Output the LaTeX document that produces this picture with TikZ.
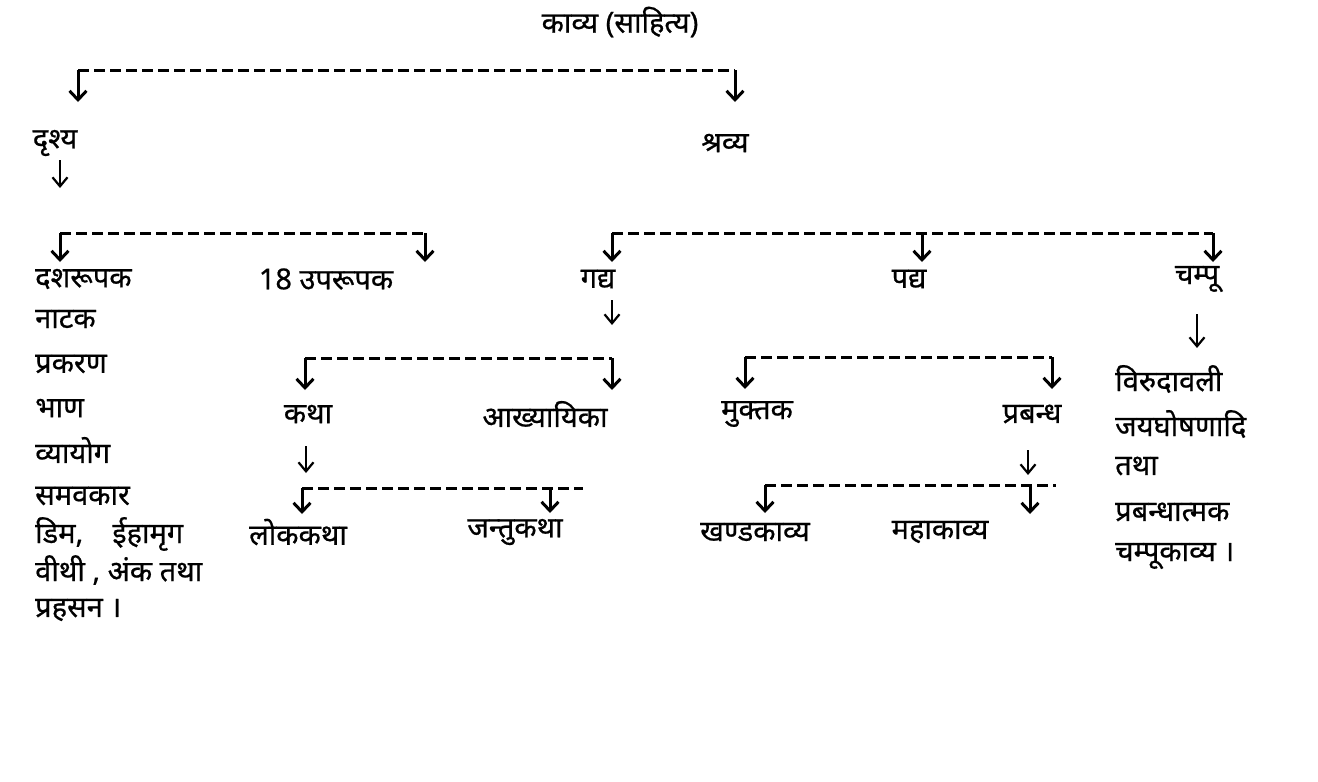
\documentclass[tikz,border=0pt]{standalone}
\usepackage{fontspec}
\newfontfamily\dev[Script=Devanagari,FakeBold=0.6]{Noto Sans}
\usetikzlibrary{arrows.meta}
\begin{document}
\begin{tikzpicture}[x=1pt,y=-1pt,
  lbl/.style={inner sep=0pt, font=\dev\fontsize{29}{32}\selectfont},
  lst/.style={lbl, anchor=west},
  bar/.style={line width=3pt, dash pattern=on 11pt off 5pt},
  arr/.style={line width=3pt, -{Straight Barb[length=9pt,width=17pt,line width=3pt]}},
  tarr/.style={line width=2.2pt, -{Straight Barb[length=9pt,width=15pt,line width=2.2pt]}}]
\useasboundingbox (0,0) rectangle (1318,782);
% nodes
\node[lbl] (kavya) at (620,22) {काव्य (साहित्य)};
\node[lbl] (drishya) at (55,143) {दृश्य};
\node[lbl] (shravya) at (725,143) {श्रव्य};
\node[lst] (dasha) at (35,279) {दशरूपक};
\node[lbl] (upa) at (326,279) {18 उपरूपक};
\node[lbl] (gadya) at (598,279) {गद्य};
\node[lbl] (padya) at (909,279) {पद्य};
\node[lbl] (champu) at (1197,279) {चम्पू};
\node[lst] (l1) at (35,319) {नाटक};
\node[lst] (l2) at (35,364) {प्रकरण};
\node[lst] (l3) at (35,408) {भाण};
\node[lst] (l4) at (35,450) {व्यायोग};
\node[lst] (l5) at (35,496) {समवकार};
\node[lst] (l6) at (35,534) {डिम,\quad ईहामृग};
\node[lst] (l7) at (35,570) {वीथी , अंक तथा};
\node[lst] (l8) at (35,610) {प्रहसन ।};
\node[lbl] (katha) at (308,414) {कथा};
\node[lbl] (akhya) at (545,414) {आख्यायिका};
\node[lbl] (muktak) at (757,414) {मुक्तक};
\node[lbl] (prabandh) at (1032,414) {प्रबन्ध};
\node[lbl] (lok) at (298,532) {लोककथा};
\node[lbl] (jantu) at (515,532) {जन्तुकथा};
\node[lbl] (khand) at (755,532) {खण्डकाव्य};
\node[lbl] (maha) at (940,532) {महाकाव्य};
\node[lst] (r1) at (1115,379) {विरुदावली};
\node[lst] (r2) at (1115,424) {जयघोषणादि};
\node[lst] (r3) at (1115,466) {तथा};
\node[lst] (r4) at (1115,512) {प्रबन्धात्मक};
\node[lst] (r5) at (1115,556) {चम्पूकाव्य ।};
% coordinates
\coordinate (a1) at (78,70); \coordinate (a1t) at (78,102);
\coordinate (a2) at (735,70); \coordinate (a2t) at (735,102);
\coordinate (d0) at (60,160); \coordinate (d0t) at (60,188);
\coordinate (b1) at (60,233); \coordinate (b1t) at (60,262);
\coordinate (b2) at (425,233); \coordinate (b2t) at (425,262);
\coordinate (c1) at (612,233); \coordinate (c1t) at (612,262);
\coordinate (c2) at (922,233); \coordinate (c2t) at (922,262);
\coordinate (c3) at (1213,233); \coordinate (c3t) at (1213,262);
\coordinate (g0) at (612,300); \coordinate (g0t) at (612,325);
\coordinate (g1) at (305,358); \coordinate (g1t) at (305,390);
\coordinate (g2) at (612,358); \coordinate (g2t) at (612,390);
\coordinate (p1) at (745,357); \coordinate (p1t) at (745,389);
\coordinate (p2) at (1052,357); \coordinate (p2t) at (1052,389);
\coordinate (k0) at (306,446); \coordinate (k0t) at (306,473);
\coordinate (k1) at (302,488); \coordinate (k1t) at (302,514);
\coordinate (k2) at (550,488); \coordinate (k2t) at (550,513);
\coordinate (k3) at (583,488);
\coordinate (q0) at (1028,450); \coordinate (q0t) at (1028,475);
\coordinate (q1) at (765,485); \coordinate (q1t) at (765,513);
\coordinate (q2) at (1030,485); \coordinate (q2t) at (1030,514);
\coordinate (q3) at (1056,485);
\coordinate (h0) at (1197,314); \coordinate (h0t) at (1197,348);
% bars
\draw[bar] (a1) -- (a2);
\draw[bar] (b1) -- (b2);
\draw[bar] (c1) -- (c3);
\draw[bar] (g1) -- (g2);
\draw[bar] (p1) -- (p2);
\draw[bar] (k1) -- (k3);
\draw[bar] (q1) -- (q3);
% arrows
\foreach \s in {a1,a2,b1,b2,c1,c2,c3,g1,g2,p1,p2,k1,k2,q1,q2}
  \draw[arr] (\s) -- (\s t);
\foreach \s in {d0,g0,k0,q0,h0}
  \draw[tarr] (\s) -- (\s t);
\end{tikzpicture}
\end{document}
